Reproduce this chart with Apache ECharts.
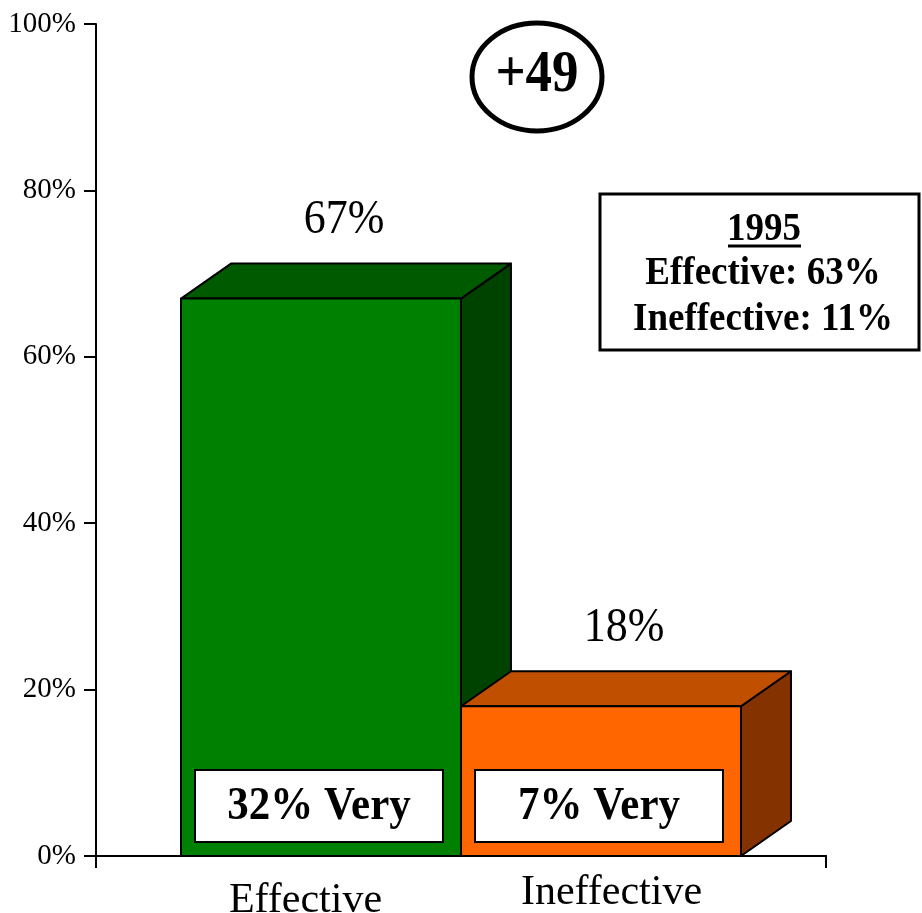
<!DOCTYPE html>
<html>
<head>
<meta charset="utf-8">
<script src="https://cdn.jsdelivr.net/npm/echarts@6/dist/echarts.min.js"></script>
<style>
  html, body { margin: 0; padding: 0; background: #fff; }
  #chart { width: 922px; height: 913px; }
</style>
</head>
<body>
<div id="chart"></div>
<script>
// data
const categories = ['Effective', 'Ineffective'];
const values = [67, 18];
const veryValues = [32, 7];
const prior1995 = [63, 11];
const yTicks = [0, 20, 40, 60, 80, 100];

// colours per bar: front, top, side
const faceColors = [
  ['#008000', '#005a00', '#004300'],
  ['#ff6600', '#c04f00', '#843300']
];
const barShift = [0.1164, -0.1164];
const DX = 50, DY = 35;
const serif = '"Liberation Serif", "Times New Roman", serif';

const chart = echarts.init(document.getElementById('chart'));

function renderItem(params, api) {
  const idx = api.value(0);
  const v = api.value(1);
  const very = api.value(2);
  const base = api.coord([idx, 0]);
  const top = api.coord([idx, v]);
  const band = api.size([1, 0])[0];
  const w = band * 0.767;
  const cx = base[0] + barShift[idx] * band;
  const x0 = cx - w / 2, x1 = cx + w / 2;
  const y0 = base[1], y1 = top[1];
  const c = faceColors[idx];
  const stroke = { stroke: '#000', lineWidth: 2, lineJoin: 'round' };
  return {
    type: 'group',
    children: [
      { type: 'polygon', shape: { points: [[x1, y0], [x1, y1], [x1 + DX, y1 - DY], [x1 + DX, y0 - DY]] },
        style: Object.assign({ fill: c[2] }, stroke) },
      { type: 'polygon', shape: { points: [[x0, y1], [x1, y1], [x1 + DX, y1 - DY], [x0 + DX, y1 - DY]] },
        style: Object.assign({ fill: c[1] }, stroke) },
      { type: 'rect', shape: { x: x0, y: y1, width: w, height: y0 - y1 },
        style: Object.assign({ fill: c[0] }, stroke) },
      { type: 'rect', shape: { x: x0 + 14, y: y0 - 86, width: w - 32, height: 72 },
        style: { fill: '#fff', stroke: '#000', lineWidth: 2 } },
      { type: 'text', x: x0 + 14 + (w - 32) / 2, y: y0 - 49, scaleY: 1.1,
        style: { x: 0, y: 0, text: very + '% Very',
          font: 'bold 43px ' + serif, fill: '#000', align: 'center', verticalAlign: 'middle' } },
      { type: 'text', x: cx + DX / 2 - 2, y: y1 - DY - 43, scaleY: 1.08,
        style: { x: 0, y: 0, text: v + '%',
          font: '44px ' + serif, fill: '#000', align: 'center', verticalAlign: 'middle' } }
    ]
  };
}

const diff = values[0] - values[1];

const option = {
  backgroundColor: '#fff',
  animation: false,
  grid: { left: 96, right: 96, top: 24, bottom: 57, outerBoundsMode: 'none', containLabel: false },
  xAxis: [
    {
      type: 'category',
      data: categories,
      position: 'bottom',
      axisLine: { lineStyle: { color: '#000', width: 2 } },
      axisTick: { show: false },
      axisLabel: {
        margin: 16,
        formatter: (val, i) => (i === 0 ? '{a|' + val + '}' : '{b|' + val + '}'),
        rich: {
          a: { fontFamily: serif, fontSize: 42, color: '#000', padding: [8, 0, 0, 54] },
          b: { fontFamily: serif, fontSize: 42, color: '#000', padding: [0, 64, 0, 0] }
        }
      }
    },
    {
      type: 'category',
      data: [''],
      position: 'bottom',
      axisLine: { show: true, lineStyle: { color: '#000', width: 2 } },
      axisTick: { show: true, length: 12, lineStyle: { color: '#000', width: 2 } },
      axisLabel: { show: false }
    }
  ],
  yAxis: {
    type: 'value',
    min: yTicks[0],
    max: yTicks[yTicks.length - 1],
    interval: 20,
    splitLine: { show: false },
    axisLine: { show: true, lineStyle: { color: '#000', width: 2 } },
    axisTick: { show: true, length: 12, lineStyle: { color: '#000', width: 2 } },
    axisLabel: { formatter: '{value}%', fontFamily: serif, fontSize: 29, color: '#000', margin: 20 }
  },
  series: [{
    type: 'custom',
    renderItem: renderItem,
    encode: { x: 0, y: 1 },
    data: categories.map((c, i) => [i, values[i], veryValues[i]])
  }],
  graphic: [
    { type: 'ellipse', shape: { cx: 537, cy: 77, rx: 65, ry: 54 },
      style: { fill: '#fff', stroke: '#000', lineWidth: 5 } },
    { type: 'text', x: 537, y: 76, scaleY: 1.1, style: { text: '+' + diff, font: 'bold 53px ' + serif,
        fill: '#000', align: 'center', verticalAlign: 'middle' } },
    { type: 'rect', shape: { x: 600, y: 194, width: 319, height: 156 },
      style: { fill: '#fff', stroke: '#000', lineWidth: 3 } },
    { type: 'text', x: 764, y: 229, scaleY: 1.1, style: { text: '1995', font: 'bold 37px ' + serif,
        fill: '#000', align: 'center', verticalAlign: 'middle' } },
    { type: 'line', shape: { x1: 728, y1: 246, x2: 801, y2: 246 },
      style: { stroke: '#000', lineWidth: 3 } },
    { type: 'text', x: 763, y: 273, scaleY: 1.1, style: { text: 'Effective: ' + prior1995[0] + '%', font: 'bold 37px ' + serif,
        fill: '#000', align: 'center', verticalAlign: 'middle' } },
    { type: 'text', x: 763, y: 319, scaleY: 1.1, style: { text: 'Ineffective: ' + prior1995[1] + '%', font: 'bold 37px ' + serif,
        fill: '#000', align: 'center', verticalAlign: 'middle' } }
  ]
};

chart.setOption(option);
</script>
</body>
</html>
